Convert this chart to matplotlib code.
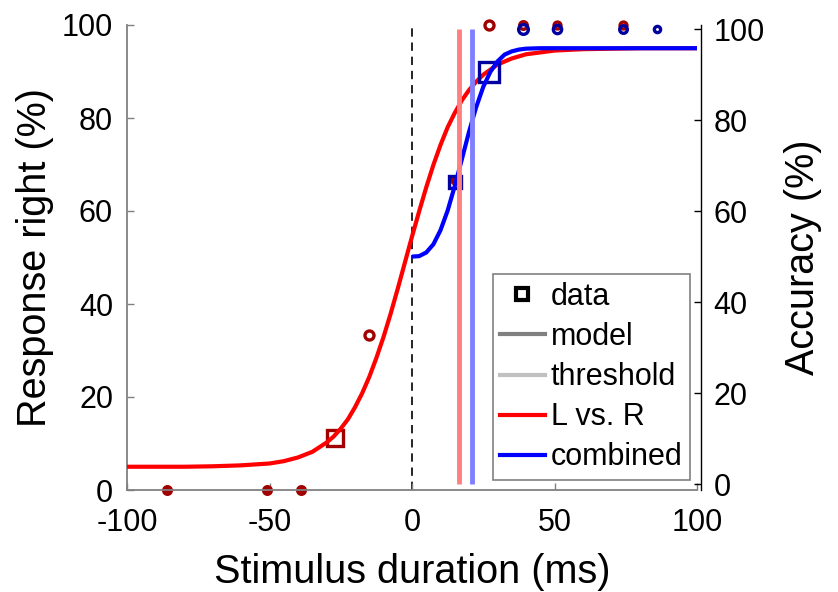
import matplotlib
matplotlib.use('Agg')
import matplotlib.pyplot as plt
from matplotlib.lines import Line2D

plt.rcParams['font.family'] = 'Liberation Sans'
plt.rcParams['axes.unicode_minus'] = False

# data
lr_x = [-86, -51, -39, -27, -15, 15, 27, 39, 51, 74]          # L vs. R data (response right %)
lr_y = [0, 0, 0, 11.1, 33.3, 66.7, 100, 100, 100, 100]
comb_x = [15, 27, 39, 51, 74, 86]                              # combined data (accuracy %)
comb_y = [66.4, 90.6, 100, 100, 100, 100]

# model curves
lr_curve_x = [-100, -90, -80, -70, -60, -50, -45, -40, -35, -30, -27.5, -25, -22.5, -20, -17.5,
              -15, -12.5, -10, -7.5, -5, -2.5, 0, 2.5, 5, 7.5, 10, 12.5, 15, 17.5, 20, 22.5,
              25, 30, 35, 40, 50, 60, 70, 80, 90, 100]
lr_curve_y = [5.0, 5.0, 5.0, 5.1, 5.3, 5.7, 6.2, 7.0, 8.2, 10.2, 11.5, 13.2, 15.2, 17.8, 20.8,
              24.3, 28.4, 32.9, 37.9, 43.3, 48.9, 54.5, 59.9, 65.1, 69.9, 74.2, 78.0, 81.1, 83.8,
              86.0, 87.8, 89.3, 91.5, 92.8, 93.7, 94.5, 94.8, 94.9, 95.0, 95.0, 95.0]
comb_curve_x = [0, 2.5, 5, 7.5, 10, 12.5, 15, 17.5, 20, 22.5, 25, 27.5, 30, 32.5, 35, 37.5,
                40, 45, 50, 60, 70, 80, 90, 100]
comb_curve_y = [50.0, 50.1, 50.9, 52.7, 55.8, 60.1, 65.5, 71.4, 77.4, 82.8, 87.3, 90.6, 92.9,
                94.4, 95.1, 95.5, 95.7, 95.8, 95.8, 95.8, 95.8, 95.8, 95.8, 95.8]

lr_thresh = 16.6
comb_thresh = 20.9

# marker shape / size / fill (style only)
lr_mk = ['o', 'o', 'o', 's', 'o', 'o', 'o', 'o', 'o', 'o']
lr_ms = [5.5, 5.5, 5.5, 11.5, 6.5, 5, 6.5, 5.5, 5, 5]
lr_fill = [True, True, True, False, False, True, False, False, False, False]
comb_mk = ['s', 's', 'o', 'o', 'o', 'o']
comb_ms = [8.5, 15, 7, 6, 5.5, 4.5]

dark_red = '#a00000'
dark_blue = '#0000a0'
gray = '#808080'

fig = plt.figure(figsize=(8.38, 5.92), dpi=100)
ax = fig.add_axes([127/838, 1-490/592, 570/838, 465/592])
ax2 = ax.twinx()

# left axis: L vs. R
ax.axvline(0, color='k', lw=1.2, ls=(0, (5, 3.5)), zorder=1)
for x, y, mk, ms, f in zip(lr_x, lr_y, lr_mk, lr_ms, lr_fill):
    ax.plot(x, y, mk, ms=ms, mec=dark_red, mfc=dark_red if f else 'none',
            mew=2.4, clip_on=False, zorder=2)
ax.plot(lr_curve_x, lr_curve_y, color='#ff0000', lw=3, zorder=3, solid_capstyle='butt')

# right axis: combined
ax2.plot([lr_thresh, lr_thresh], [0, 100], color='#ff8080', lw=3.5, zorder=4, solid_capstyle='butt')
for x, y, mk, ms in zip(comb_x, comb_y, comb_mk, comb_ms):
    ax2.plot(x, y, mk, ms=ms, mec=dark_blue, mfc='none', mew=2.4, clip_on=False, zorder=2)
ax2.plot(comb_curve_x, comb_curve_y, color='#0000ff', lw=3, zorder=3, solid_capstyle='butt')
ax2.plot([comb_thresh, comb_thresh], [0, 100], color='#8080ff', lw=3.5, zorder=4, solid_capstyle='butt')

ax.set_xlim(-100, 100)
ax.set_ylim(0, 100)
ax2.set_ylim(-1.3, 100.9)
ax.set_xticks([-100, -50, 0, 50, 100])
ax.set_yticks([0, 20, 40, 60, 80, 100])
ax2.set_yticks([0, 20, 40, 60, 80, 100])

for s in ['top', 'right']:
    ax.spines[s].set_visible(False)
for s in ['top', 'left', 'bottom']:
    ax2.spines[s].set_visible(False)
ax.spines['left'].set_color(gray)
ax.spines['bottom'].set_color(gray)
ax.spines['left'].set_linewidth(1.3)
ax.spines['bottom'].set_linewidth(1.3)
ax2.spines['right'].set_position(('outward', 3))
ax2.spines['right'].set_linewidth(1.0)

ax.tick_params(axis='both', direction='in', color=gray, length=5, width=1, labelsize=22)
ax.tick_params(axis='x', pad=13)
ax.tick_params(axis='y', pad=10)
ax2.tick_params(axis='y', direction='in', length=5, width=1, labelsize=22, pad=9)

ax.set_xlabel('Stimulus duration (ms)', fontsize=28.5, labelpad=11)
ax.set_ylabel('Response right (%)', fontsize=28.5, labelpad=6)
ax2.set_ylabel('Accuracy (%)', fontsize=28.5, labelpad=14)

handles = [
    Line2D([], [], ls='none', marker='s', ms=9, mec='k', mfc='none', mew=3),
    Line2D([], [], color=gray, lw=3),
    Line2D([], [], color='#c0c0c0', lw=3),
    Line2D([], [], color='#ff0000', lw=3),
    Line2D([], [], color='#0000ff', lw=3),
]
labels = ['data', 'model', 'threshold', 'L vs. R', 'combined']
leg = ax2.legend(handles, labels, loc='lower right', bbox_to_anchor=(690/838, 1-480/592),
                 bbox_transform=fig.transFigure, borderaxespad=0, fontsize=22,
                 handlelength=1.45, handletextpad=0.2, labelspacing=0.33,
                 borderpad=0.25, fancybox=False, framealpha=1, edgecolor=gray)
leg.get_frame().set_linewidth(1.2)

fig.savefig('out.png', dpi=100)
